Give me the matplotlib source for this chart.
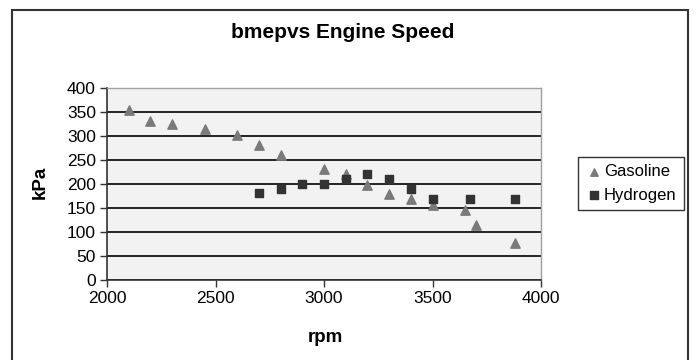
import matplotlib
matplotlib.use("Agg")
import matplotlib.pyplot as plt
from matplotlib.patches import Rectangle

plt.rcParams['font.family'] = ['Liberation Sans', 'DejaVu Sans']

# data
gas_rpm = [2100, 2200, 2300, 2450, 2600, 2700, 2800, 3000, 3100, 3200, 3300, 3400, 3500, 3650, 3700, 3880]
gas_kpa = [354, 332, 325, 314, 303, 282, 260, 231, 221, 197, 179, 169, 156, 146, 115, 78]
h2_rpm = [2700, 2800, 2900, 3000, 3100, 3200, 3300, 3400, 3500, 3675, 3880]
h2_kpa = [181, 190, 199, 200, 211, 221, 210, 190, 169, 169, 169]
x_ticks = [2000, 2500, 3000, 3500, 4000]
y_ticks = [0, 50, 100, 150, 200, 250, 300, 350, 400]

fig = plt.figure(figsize=(6.96, 3.60), dpi=100)
ax = fig.add_axes([107/696, 1-280/360, 434/696, 192/360])

ax.set_facecolor('#f2f2f2')
ax.set_xlim(2000, 4000)
ax.set_ylim(0, 400)
ax.set_xticks(x_ticks)
ax.set_yticks(y_ticks)
ax.yaxis.grid(True, color='black', linewidth=1.2)
ax.set_axisbelow(True)

ax.scatter(gas_rpm, gas_kpa, marker='^', s=45, color='#7a7a7a', label='Gasoline', zorder=3)
ax.scatter(h2_rpm, h2_kpa, marker='s', s=40, color='#333333', label='Hydrogen', zorder=3)

for side in ['top', 'right']:
    ax.spines[side].set_color('#a0a0a0')
    ax.spines[side].set_linewidth(1.0)
for side in ['left', 'bottom']:
    ax.spines[side].set_color('#333333')
    ax.spines[side].set_linewidth(1.2)

ax.tick_params(axis='both', direction='out', length=5, width=1.0, color='#333333',
               labelsize=12.5, pad=3)

# title and axis labels placed in figure coords
fig.text(343/696, 1-33/360, 'bmepvs Engine Speed', fontsize=15, fontweight='bold',
         ha='center', va='center')
fig.text(40/696, 1-182/360, 'kPa', fontsize=13.5, fontweight='bold', rotation=90,
         ha='center', va='center')
fig.text(325/696, 1-337/360, 'rpm', fontsize=13.5, fontweight='bold',
         ha='center', va='center')

leg = ax.legend(loc='upper left', bbox_to_anchor=(578/696, 1-157/360),
                bbox_transform=fig.transFigure, frameon=True, fancybox=False,
                fontsize=12, handletextpad=0.1, handlelength=1.0, borderpad=0.45,
                labelspacing=0.5, borderaxespad=0, markerscale=0.8)
leg.get_frame().set_edgecolor('black')
leg.get_frame().set_linewidth(1.0)

fig.patches.append(Rectangle((12/696, -0.1), 676/696, 1.1-10/360, transform=fig.transFigure,
                             fill=False, edgecolor='#333333', linewidth=1.5))

fig.savefig('out.png', dpi=100)
